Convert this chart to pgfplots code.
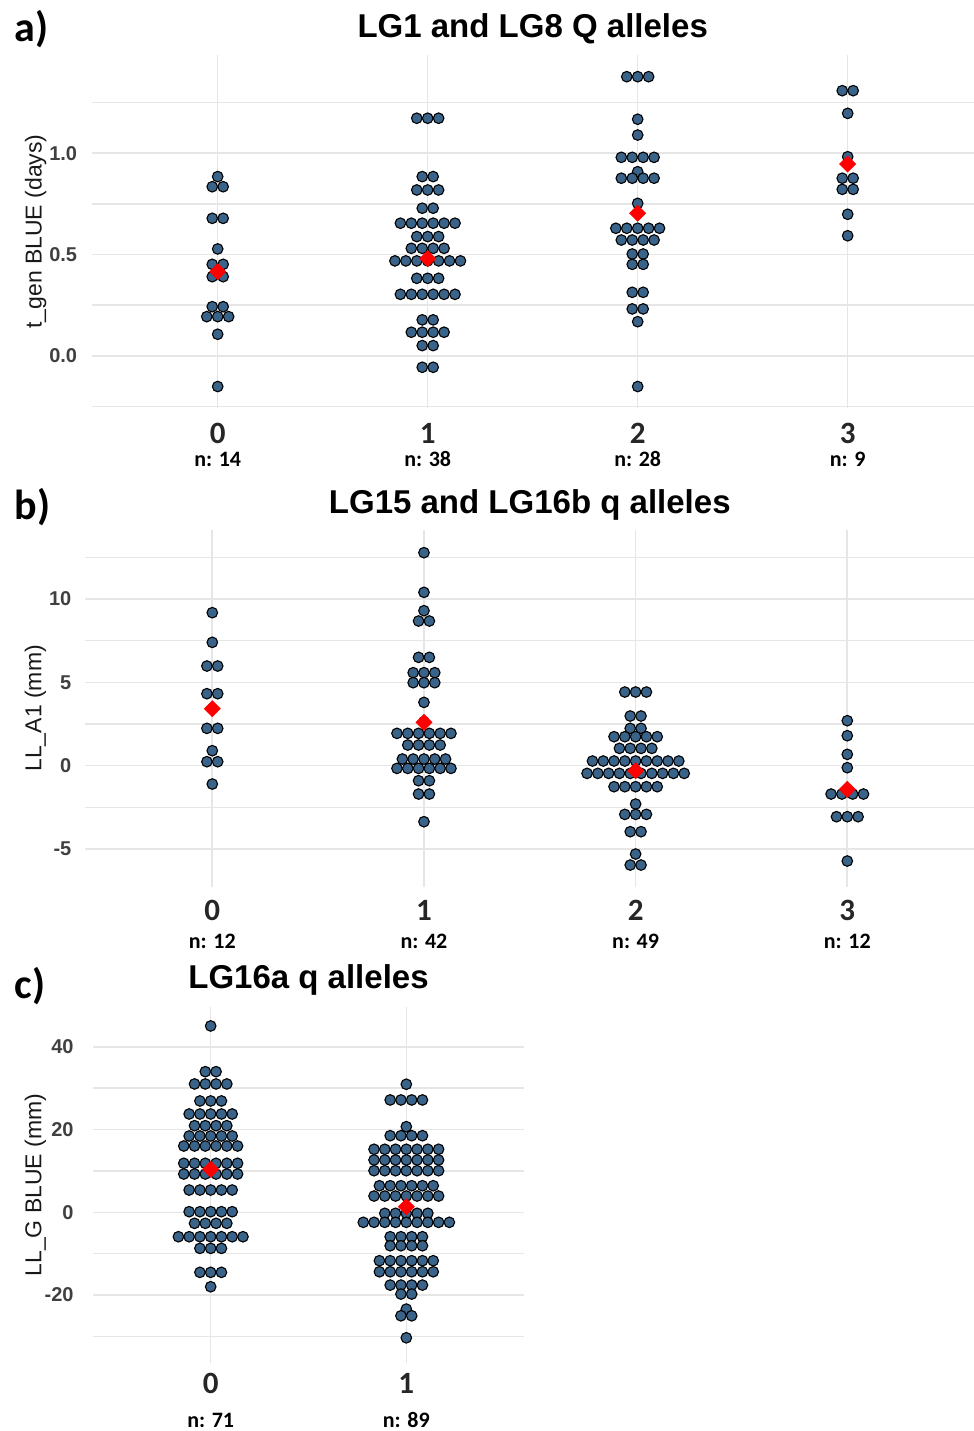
\documentclass[border=0pt]{standalone}
\usepackage{pgfplots}
\pgfplotsset{compat=1.18}
\usepackage{fontspec}
\setmainfont{Liberation Sans}
\newfontfamily\calib{Carlito}
\definecolor{dotblue}{HTML}{3A6389}
\definecolor{gridgray}{HTML}{E6E6E6}
\definecolor{ticktext}{HTML}{404040}

\pgfplotsset{
  dotpanel/.style={
    scale only axis, anchor=north west, clip=false,
    axis line style={draw=none}, major tick length=0pt, tick style={draw=none},
    xmajorgrids, ymajorgrids, yminorgrids,
    major grid style={gridgray, line width=0.8pt},
    minor grid style={gridgray, line width=0.8pt},
    xmin=-0.6,
    xticklabel style={font=\calib\bfseries\fontsize{15.5}{17}\selectfont, text=black!85, anchor=center, inner sep=0pt},
    yticklabel style={font=\bfseries\fontsize{10}{12}\selectfont, text=ticktext, anchor=east, inner sep=0pt},
    every axis title/.style={at={(0.5,1)}, anchor=base, inner sep=0pt, font=\bfseries\fontsize{16.5}{18}\selectfont},
    every axis y label/.style={rotate=90, anchor=base, inner sep=0pt, font=\fontsize{11.5}{13}\selectfont, text=black!90},
  },
  pts/.style={only marks, mark=*, mark size=2.65pt, mark options={fill=dotblue, draw=black, line width=0.55pt}},
  avg/.style={only marks, mark=square*, mark size=2.8pt, mark options={fill=red, draw=red, rotate=45}},
}
\tikzset{
  nlab/.style={font=\calib\bfseries\fontsize{11}{12}\selectfont, inner sep=0pt, anchor=center},
  letter/.style={anchor=base west, inner sep=0pt, font=\calib\bfseries\fontsize{21}{24}\selectfont},
}

\begin{document}
\begin{tikzpicture}
\path[use as bounding box] (0,0) rectangle (487pt,-715.5pt);

\node[letter] at (7.2pt,-20.85pt) {a)};
\node[letter] at (7.2pt,-259.5pt) {b)};
\node[letter] at (7.2pt,-499pt) {c)};

% a) t_gen
\begin{axis}[dotpanel, at={(45.85pt,-27.5pt)}, width=441pt, height=176.5pt,
  xmax=3.6, ymin=-0.257, ymax=1.485,
  xtick={0,1,2,3}, xticklabels={0,1,2,3},
  ytick={0,0.5,1}, yticklabels={0.0,0.5,1.0},
  minor ytick={-0.25,0.25,0.75,1.25},
  xticklabel style={yshift=-12.65pt},
  yticklabel style={xshift=-7.1pt},
  title={LG1 and LG8 Q alleles}, title style={yshift=9pt},
  ylabel={t\_gen BLUE (days)}, ylabel style={at={(axis description cs:-0.0569,0.5)}},
]
\addplot[pts] coordinates {
(0,0.885) (-0.026,0.835) (0.026,0.835) (-0.026,0.679) (0.026,0.679) (0,0.528)
(-0.026,0.452) (0.026,0.452) (-0.026,0.391) (0.026,0.391) (-0.026,0.243) (0.026,0.243)
(-0.052,0.194) (0,0.194) (0.052,0.194) (0,0.107) (0,-0.151)
(0.948,1.173) (1,1.173) (1.052,1.173)
(0.974,0.885) (1.026,0.885)
(0.948,0.819) (1,0.819) (1.052,0.819)
(0.974,0.729) (1.026,0.729)
(0.870,0.655) (0.922,0.655) (0.974,0.655) (1.026,0.655) (1.078,0.655) (1.130,0.655)
(0.948,0.589) (1,0.589) (1.052,0.589)
(0.922,0.531) (0.974,0.531) (1.026,0.531) (1.078,0.531)
(0.844,0.469) (0.896,0.469) (0.948,0.469) (1,0.469) (1.052,0.469) (1.104,0.469) (1.156,0.469)
(0.948,0.383) (1,0.383) (1.052,0.383)
(0.870,0.304) (0.922,0.304) (0.974,0.304) (1.026,0.304) (1.078,0.304) (1.130,0.304)
(0.974,0.178) (1.026,0.178)
(0.922,0.117) (0.974,0.117) (1.026,0.117) (1.078,0.117)
(0.974,0.051) (1.026,0.051)
(0.974,-0.056) (1.026,-0.056)
(1.948,1.378) (2,1.378) (2.052,1.378)
(2,1.168) (2,1.090)
(1.922,0.980) (1.974,0.980) (2.026,0.980) (2.078,0.980)
(2,0.909)
(1.922,0.877) (1.974,0.877) (2.026,0.877) (2.078,0.877)
(2,0.753)
(1.896,0.630) (1.948,0.630) (2,0.630) (2.052,0.630) (2.104,0.630)
(1.922,0.572) (1.974,0.572) (2.026,0.572) (2.078,0.572)
(1.974,0.503) (2.026,0.503)
(1.974,0.452) (2.026,0.452)
(1.974,0.314) (2.026,0.314)
(1.974,0.232) (2.026,0.232)
(2,0.169) (2,-0.151)
(2.974,1.309) (3.026,1.309) (3,1.197) (3,0.983)
(2.974,0.877) (3.026,0.877) (2.974,0.822) (3.026,0.822)
(3,0.699) (3,0.593)
};
\addplot[avg] coordinates {(0,0.416) (1,0.48) (2,0.704) (3,0.947)};
\node[nlab, yshift=-25.5pt] at (axis cs:0,-0.257) {n: 14};
\node[nlab, yshift=-25.5pt] at (axis cs:1,-0.257) {n: 38};
\node[nlab, yshift=-25.5pt] at (axis cs:2,-0.257) {n: 28};
\node[nlab, yshift=-25.5pt] at (axis cs:3,-0.257) {n: 9};
\end{axis}

% b) LL_A1
\begin{axis}[dotpanel, at={(42.65pt,-265pt)}, width=444.5pt, height=178.35pt,
  xmax=3.6, ymin=-7.26, ymax=14.14,
  xtick={0,1,2,3}, xticklabels={0,1,2,3},
  ytick={-5,0,5,10}, yticklabels={-5,0,5,10},
  minor ytick={-2.5,2.5,7.5,12.5},
  xticklabel style={yshift=-12pt},
  yticklabel style={xshift=-6.8pt},
  title={LG15 and LG16b q alleles}, title style={yshift=8.35pt},
  ylabel={LL\_A1 (mm)}, ylabel style={at={(axis description cs:-0.0493,0.5)}},
]
\addplot[pts] coordinates {
(0,9.18) (0,7.40) (-0.0255,5.98) (0.0255,5.98) (-0.0255,4.32) (0.0255,4.32)
(-0.0255,2.24) (0.0255,2.24) (0,0.90) (-0.0255,0.24) (0.0255,0.24) (0,-1.10)
(1,12.78) (1,10.40) (1,9.30) (0.9745,8.68) (1.0255,8.68)
(0.9745,6.50) (1.0255,6.50)
(0.949,5.58) (1,5.58) (1.051,5.58)
(0.949,4.98) (1,4.98) (1.051,4.98)
(1,3.80) (1,2.64)
(0.8725,1.94) (0.9235,1.94) (0.9745,1.94) (1.0255,1.94) (1.0765,1.94) (1.1275,1.94)
(0.9235,1.24) (0.9745,1.24) (1.0255,1.24) (1.0765,1.24)
(0.898,0.40) (0.949,0.40) (1,0.40) (1.051,0.40) (1.102,0.40)
(0.8725,-0.16) (0.9235,-0.16) (0.9745,-0.16) (1.0255,-0.16) (1.0765,-0.16) (1.1275,-0.16)
(0.9745,-0.90) (1.0255,-0.90) (0.9745,-1.70) (1.0255,-1.70) (1,-3.36)
(1.949,4.42) (2,4.42) (2.051,4.42)
(1.9745,2.98) (2.0255,2.98)
(1.9745,2.24) (2.0255,2.24)
(1.898,1.74) (1.949,1.74) (2,1.74) (2.051,1.74) (2.102,1.74)
(1.9235,1.04) (1.9745,1.04) (2.0255,1.04) (2.0765,1.04)
(1.796,0.28) (1.847,0.28) (1.898,0.28) (1.949,0.28) (2,0.28) (2.051,0.28) (2.102,0.28) (2.153,0.28) (2.204,0.28)
(1.7705,-0.46) (1.8215,-0.46) (1.8725,-0.46) (1.9235,-0.46) (1.9745,-0.46) (2.0255,-0.46) (2.0765,-0.46) (2.1275,-0.46) (2.1785,-0.46) (2.2295,-0.46)
(1.898,-1.26) (1.949,-1.26) (2,-1.26) (2.051,-1.26) (2.102,-1.26)
(2,-2.30)
(1.949,-2.92) (2,-2.92) (2.051,-2.92)
(1.9745,-3.96) (2.0255,-3.96)
(2,-5.30)
(1.9745,-5.96) (2.0255,-5.96)
(3,2.70) (3,1.80) (3,0.68) (3,-0.12)
(2.9235,-1.70) (2.9745,-1.70) (3.0255,-1.70) (3.0765,-1.70)
(2.949,-3.06) (3,-3.06) (3.051,-3.06)
(3,-5.72)
};
\addplot[avg] coordinates {(0,3.42) (1,2.6) (2,-0.30) (3,-1.42)};
\node[nlab, yshift=-27.5pt] at (axis cs:0,-7.26) {n: 12};
\node[nlab, yshift=-27.5pt] at (axis cs:1,-7.26) {n: 42};
\node[nlab, yshift=-27.5pt] at (axis cs:2,-7.26) {n: 49};
\node[nlab, yshift=-27.5pt] at (axis cs:3,-7.26) {n: 12};
\end{axis}

% c) LL_G
\begin{axis}[dotpanel, at={(46.65pt,-503.35pt)}, width=215.2pt, height=178.3pt,
  xmax=1.6, ymin=-36.5, ymax=49.7,
  xtick={0,1}, xticklabels={0,1},
  ytick={-20,0,20,40}, yticklabels={-20,0,20,40},
  minor ytick={-30,-10,10,30},
  xticklabel style={yshift=-10pt},
  yticklabel style={xshift=-9.65pt},
  title={LG16a q alleles}, title style={yshift=9.2pt},
  ylabel={LL\_G BLUE (mm)}, ylabel style={at={(axis description cs:-0.1204,0.5)}},
]
\addplot[pts] coordinates {
(0,45.05)
(-0.0275,34.0) (0.0275,34.0)
(-0.0825,31.03) (-0.0275,31.03) (0.0275,31.03) (0.0825,31.03)
(-0.055,26.92) (0,26.92) (0.055,26.92)
(-0.11,23.77) (-0.055,23.77) (0,23.77) (0.055,23.77) (0.11,23.77)
(-0.0825,20.94) (-0.0275,20.94) (0.0275,20.94) (0.0825,20.94)
(-0.11,18.45) (-0.055,18.45) (0,18.45) (0.055,18.45) (0.11,18.45)
(-0.1375,16.03) (-0.0825,16.03) (-0.0275,16.03) (0.0275,16.03) (0.0825,16.03) (0.1375,16.03)
(-0.1375,11.85) (-0.0825,11.85) (-0.0275,11.85) (0.0275,11.85) (0.0825,11.85) (0.1375,11.85)
(-0.1375,9.26) (-0.0825,9.26) (-0.0275,9.26) (0.0275,9.26) (0.0825,9.26) (0.1375,9.26)
(-0.11,5.39) (-0.055,5.39) (0,5.39) (0.055,5.39) (0.11,5.39)
(-0.11,0.15) (-0.055,0.15) (0,0.15) (0.055,0.15) (0.11,0.15)
(-0.0825,-2.66) (-0.0275,-2.66) (0.0275,-2.66) (0.0825,-2.66)
(-0.165,-5.90) (-0.11,-5.90) (-0.055,-5.90) (0,-5.90) (0.055,-5.90) (0.11,-5.90) (0.165,-5.90)
(-0.055,-8.71) (0,-8.71) (0.055,-8.71)
(-0.055,-14.51) (0,-14.51) (0.055,-14.51)
(0,-17.99)
(1,30.96)
(0.9175,27.16) (0.9725,27.16) (1.0275,27.16) (1.0825,27.16)
(1,20.70)
(0.9175,18.52) (0.9725,18.52) (1.0275,18.52) (1.0825,18.52)
(0.835,15.24) (0.89,15.24) (0.945,15.24) (1,15.24) (1.055,15.24) (1.11,15.24) (1.165,15.24)
(0.835,12.65) (0.89,12.65) (0.945,12.65) (1,12.65) (1.055,12.65) (1.11,12.65) (1.165,12.65)
(0.835,10.06) (0.89,10.06) (0.945,10.06) (1,10.06) (1.055,10.06) (1.11,10.06) (1.165,10.06)
(0.8625,6.43) (0.9175,6.43) (0.9725,6.43) (1.0275,6.43) (1.0825,6.43) (1.1375,6.43)
(0.835,3.94) (0.89,3.94) (0.945,3.94) (1,3.94) (1.055,3.94) (1.11,3.94) (1.165,3.94)
(0.89,-0.24) (0.945,-0.24) (1,-0.24) (1.055,-0.24) (1.11,-0.24)
(0.78,-2.42) (0.835,-2.42) (0.89,-2.42) (0.945,-2.42) (1,-2.42) (1.055,-2.42) (1.11,-2.42) (1.165,-2.42) (1.22,-2.42)
(0.9175,-5.90) (0.9725,-5.90) (1.0275,-5.90) (1.0825,-5.90)
(0.9175,-8.08) (0.9725,-8.08) (1.0275,-8.08) (1.0825,-8.08)
(0.8625,-11.70) (0.9175,-11.70) (0.9725,-11.70) (1.0275,-11.70) (1.0825,-11.70) (1.1375,-11.70)
(0.8625,-14.37) (0.9175,-14.37) (0.9725,-14.37) (1.0275,-14.37) (1.0825,-14.37) (1.1375,-14.37)
(0.9175,-17.59) (0.9725,-17.59) (1.0275,-17.59) (1.0825,-17.59)
(0.9725,-19.76) (1.0275,-19.76)
(1,-23.39)
(0.9725,-25.01) (1.0275,-25.01)
(1,-30.33)
};
\addplot[avg] coordinates {(0,10.4) (1,1.35)};
\node[nlab, yshift=-28.4pt] at (axis cs:0,-36.5) {n: 71};
\node[nlab, yshift=-28.4pt] at (axis cs:1,-36.5) {n: 89};
\end{axis}
\end{tikzpicture}
\end{document}
